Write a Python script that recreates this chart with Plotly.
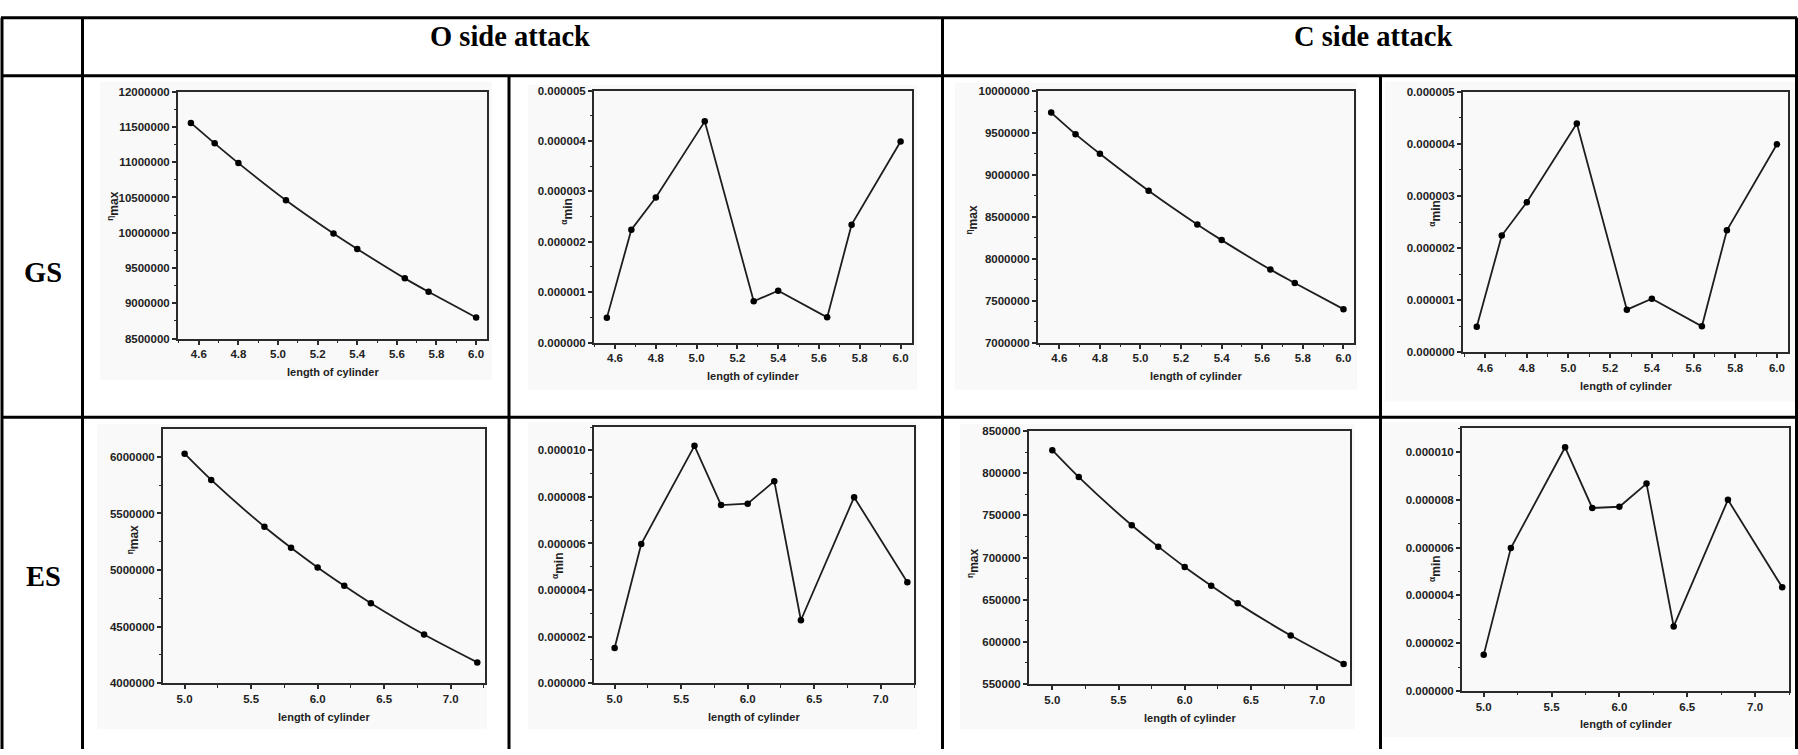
import plotly.graph_objects as go

W, H = 1798, 755

# ---------------- data ----------------
col_headers = ["O side attack", "C side attack"]
row_headers = ["GS", "ES"]
x_label = "length of cylinder"

x_gs = [4.56, 4.68, 4.80, 5.04, 5.28, 5.40, 5.64, 5.76, 6.00]
x_es = [5.0, 5.2, 5.6, 5.8, 6.0, 6.2, 6.4, 6.8, 7.2]

eta_gs_o = [11557000, 11267000, 10987000, 10460000, 9989000, 9770000, 9354000, 9163000, 8799000]
alpha_gs_o = [0.49e-6, 2.24e-6, 2.88e-6, 4.39e-6, 0.82e-6, 1.03e-6, 0.50e-6, 2.34e-6, 3.99e-6]
eta_gs_c = [9739000, 9482000, 9248000, 8808000, 8407000, 8220000, 7869000, 7710000, 7398000]
alpha_gs_c = [0.49e-6, 2.24e-6, 2.88e-6, 4.39e-6, 0.82e-6, 1.03e-6, 0.50e-6, 2.34e-6, 3.99e-6]

eta_es_o = [6029000, 5797000, 5383000, 5197000, 5023000, 4861000, 4707000, 4429000, 4183000]
alpha_es_o = [1.51e-6, 5.98e-6, 10.2e-6, 7.65e-6, 7.71e-6, 8.68e-6, 2.70e-6, 7.99e-6, 4.33e-6]
eta_es_c = [827400, 795500, 738300, 713000, 688900, 666700, 645700, 607600, 573700]
alpha_es_c = [1.51e-6, 5.98e-6, 10.2e-6, 7.66e-6, 7.71e-6, 8.68e-6, 2.70e-6, 8.00e-6, 4.34e-6]

ETA = "<sup>η</sup>max"
ALPHA = "<sup>α</sup>min"

# ---------------- panel layout (pixel boxes) ----------------
# (x, y, ytitle, box L,R,T,B, xrange, yrange, xdtick, xminor, ydtick, yminor, yfmt, smooth, ytitle (dx, cy), bg box)
panels = [
    (x_gs, eta_gs_o, ETA, (178, 487, 87, 338), [4.495, 6.055], [8.5e6, 12e6], 0.2, 0.1, 500000, 250000, "d", True, (65, 203), (100, 492, 77, 380)),
    (x_gs, alpha_gs_o, ALPHA, (594, 912, 86, 342), [4.497, 6.056], [0, 5e-6], 0.2, 0.1, 1e-6, 0.5e-6, ".6f", False, (27, 209), (528, 917, 80, 390)),
    (x_gs, eta_gs_c, ETA, (1038, 1354, 86, 342), [4.495, 6.052], [7e6, 10e6], 0.2, 0.1, 500000, 250000, "d", True, (66, 217), (955, 1357, 78, 390)),
    (x_gs, alpha_gs_c, ALPHA, (1463, 1788, 87, 352), [4.494, 6.053], [0, 5e-6], 0.2, 0.1, 1e-6, 0.5e-6, ".6f", False, (28, 211), (1385, 1795, 77, 402)),
    (x_es, eta_es_o, ETA, (163, 485, 430, 688), [4.8375, 7.258], [4e6, 6.246e6], 0.5, 0.25, 500000, 250000, "d", True, (30, 543), (97, 487, 425, 735)),
    (x_es, alpha_es_o, ALPHA, (594, 914, 428, 688), [4.845, 7.25], [0, 1.1e-5], 0.5, 0.25, 2e-6, 1e-6, ".6f", False, (36, 569), (528, 917, 423, 735)),
    (x_es, eta_es_c, ETA, (1029, 1350, 432, 689), [4.824, 7.248], [550000, 850000], 0.5, 0.25, 50000, 25000, "d", True, (56, 567), (960, 1355, 425, 735)),
    (x_es, alpha_es_c, ALPHA, (1462, 1789, 429, 696), [4.84, 7.25], [0, 1.1e-5], 0.5, 0.25, 2e-6, 1e-6, ".6f", False, (27, 572), (1383, 1793, 423, 743)),
]

def fx(px):
    return px / W

def fy(py):
    return 1 - py / H

fig = go.Figure()
shapes = []
annotations = []
axis_color = "#2a2a2a"
tick_font = dict(family="Liberation Sans, Arial, sans-serif", size=11.5, color="#222222", weight="bold")

for i, (xs, ys, ytitle, box, xr, yr, xdt, xmn, ydt, ymn, yfmt, smooth, ytpos, bg) in enumerate(panels):
    n = i + 1
    xa = "x" if n == 1 else f"x{n}"
    ya = "y" if n == 1 else f"y{n}"
    L, R, T, B = box
    shapes.append(dict(type="rect", xref="paper", yref="paper",
                       x0=fx(bg[0]), x1=fx(bg[1]), y0=fy(bg[3]), y1=fy(bg[2]),
                       fillcolor="#f9f9f9", line=dict(width=0), layer="below"))
    fig.add_trace(go.Scatter(
        x=xs, y=ys, xaxis=xa, yaxis=ya, mode="lines+markers",
        line=dict(color="#1e1e1e", width=1.8, shape="spline" if smooth else "linear", smoothing=0.8),
        marker=dict(color="#000000", size=6.5), showlegend=False, hoverinfo="skip",
    ))
    xkey = "xaxis" if n == 1 else f"xaxis{n}"
    ykey = "yaxis" if n == 1 else f"yaxis{n}"
    fig.update_layout(**{
        xkey: dict(domain=[fx(L), fx(R)], anchor=ya, range=xr, dtick=xdt, tick0=0,
                   tickformat=".1f", showgrid=False, zeroline=False,
                   showline=True, mirror=True, linecolor=axis_color, linewidth=2,
                   ticks="outside", ticklen=4, tickwidth=1.5, tickcolor=axis_color,
                   minor=dict(dtick=xmn, ticks="outside", ticklen=2.5, tickwidth=1.2, tickcolor=axis_color, showgrid=False),
                   tickfont=tick_font, fixedrange=True),
        ykey: dict(domain=[fy(B), fy(T)], anchor=xa, range=yr, dtick=ydt, tick0=0,
                   tickformat=yfmt, showgrid=False, zeroline=False,
                   showline=True, mirror=True, linecolor=axis_color, linewidth=2,
                   ticks="outside", ticklen=4, tickwidth=1.5, tickcolor=axis_color,
                   minor=dict(dtick=ymn, ticks="outside", ticklen=2.5, tickwidth=1.2, tickcolor=axis_color, showgrid=False),
                   tickfont=tick_font, fixedrange=True),
    })
    annotations.append(dict(text=x_label, xref="paper", yref="paper",
                            x=fx((L + R) / 2), y=fy(B + 34), showarrow=False,
                            xanchor="center", yanchor="middle",
                            font=dict(family="Liberation Sans, Arial, sans-serif", size=11, color="#222222", weight="bold")))
    annotations.append(dict(text=ytitle, xref="paper", yref="paper",
                            x=fx(L - ytpos[0]), y=fy(ytpos[1]), showarrow=False, textangle=-90,
                            xanchor="center", yanchor="middle",
                            font=dict(family="Liberation Sans, Arial, sans-serif", size=12, color="#222222", weight="bold")))

# ---------------- table grid ----------------
lw = 3
def hline(y, x0, x1):
    shapes.append(dict(type="line", xref="paper", yref="paper", x0=fx(x0), x1=fx(x1), y0=fy(y), y1=fy(y),
                       line=dict(color="black", width=lw)))
def vline(x, y0, y1):
    shapes.append(dict(type="line", xref="paper", yref="paper", x0=fx(x), x1=fx(x), y0=fy(y0), y1=fy(y1),
                       line=dict(color="black", width=lw)))

hline(12, 1, 1797)
hline(71, 1, 1797)
hline(418, 1, 1797)
vline(2, 12, 755)
vline(82.5, 12, 755)
vline(509, 71, 755)
vline(942.5, 12, 755)
vline(1380.5, 71, 755)
vline(1796.5, 12, 755)

header_font = dict(family="Liberation Serif, Times New Roman, serif", size=28.5, color="black", weight="bold")
annotations.append(dict(text=col_headers[0], xref="paper", yref="paper", x=fx(510), y=fy(31),
                        showarrow=False, xanchor="center", yanchor="middle", font=header_font))
annotations.append(dict(text=col_headers[1], xref="paper", yref="paper", x=fx(1373), y=fy(31),
                        showarrow=False, xanchor="center", yanchor="middle", font=header_font))
annotations.append(dict(text=row_headers[0], xref="paper", yref="paper", x=fx(43), y=fy(271),
                        showarrow=False, xanchor="center", yanchor="middle", font=header_font))
annotations.append(dict(text=row_headers[1], xref="paper", yref="paper", x=fx(43), y=fy(580),
                        showarrow=False, xanchor="center", yanchor="middle", font=header_font))

fig.update_layout(
    width=W, height=H, margin=dict(l=0, r=0, t=0, b=0),
    paper_bgcolor="white", plot_bgcolor="rgba(0,0,0,0)",
    shapes=shapes, annotations=annotations, showlegend=False,
)

fig.write_html("out.html", config={"displayModeBar": False},
               post_script="document.body.style.margin='0';document.body.style.overflow='hidden';")
